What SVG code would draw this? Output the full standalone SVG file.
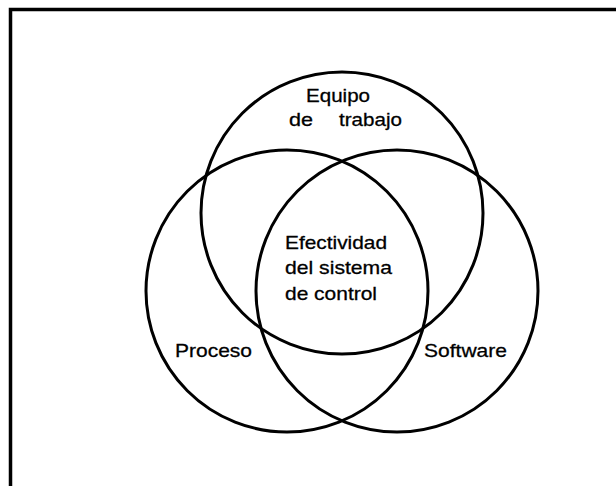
<svg xmlns="http://www.w3.org/2000/svg" width="616" height="486" viewBox="0 0 616 486">
  <style>
    .ring { fill: none; stroke: #000; stroke-width: 3; }
    .frame { fill: none; stroke: #000; stroke-width: 3.5; }
    .lbl { font-family: "Liberation Sans", Arial, sans-serif; font-size: 19px; fill: #000; stroke: #000; stroke-width: 0.3; }
  </style>
  <rect width="616" height="486" fill="#fff"/>
  <!-- page frame (top and left edges) -->
  <path class="frame" d="M10.5,486 V9.5 H616"/>

  <g id="connectors"/>

  <g id="equipo">
    <circle class="ring" cx="342" cy="213" r="141"/>
    <text class="lbl" x="306" y="102" textLength="64" lengthAdjust="spacingAndGlyphs">Equipo</text>
    <text class="lbl" x="289" y="126" textLength="24" lengthAdjust="spacingAndGlyphs">de</text>
    <text class="lbl" x="339" y="126" textLength="63" lengthAdjust="spacingAndGlyphs">trabajo</text>
  </g>

  <g id="proceso">
    <circle class="ring" cx="287" cy="291" r="141"/>
    <text class="lbl" x="175" y="357" textLength="77" lengthAdjust="spacingAndGlyphs">Proceso</text>
  </g>

  <g id="software">
    <circle class="ring" cx="397" cy="291" r="141"/>
    <text class="lbl" x="424" y="357" textLength="83" lengthAdjust="spacingAndGlyphs">Software</text>
  </g>

  <g id="efectividad">
    <text class="lbl" x="285" y="249" textLength="102" lengthAdjust="spacingAndGlyphs">Efectividad</text>
    <text class="lbl" x="285" y="274" textLength="107" lengthAdjust="spacingAndGlyphs">del sistema</text>
    <text class="lbl" x="285" y="300" textLength="92" lengthAdjust="spacingAndGlyphs">de control</text>
  </g>
</svg>
